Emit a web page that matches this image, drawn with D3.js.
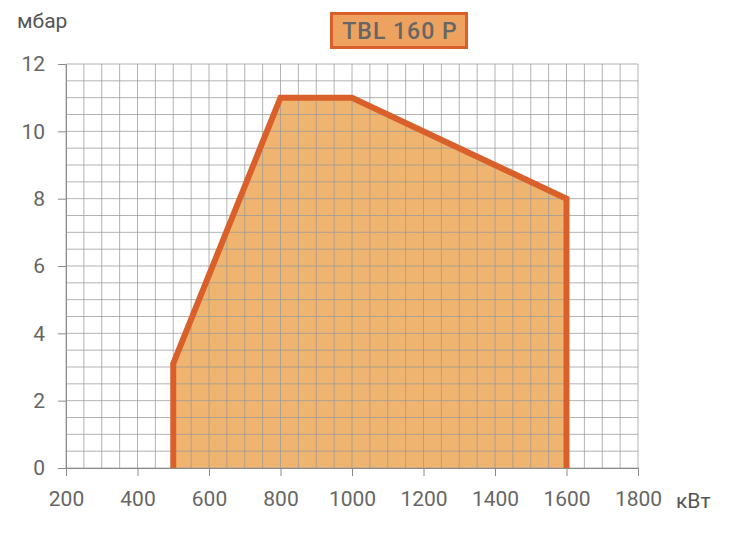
<!DOCTYPE html>
<html><head><meta charset="utf-8">
<script src="https://cdn.jsdelivr.net/npm/d3@7"></script>
<style>body{margin:0;background:#fff}svg{display:block}</style>
</head><body>
<svg id="c" width="730" height="535"></svg>
<script>
const xTicks = [200,400,600,800,1000,1200,1400,1600,1800];
const yTicks = [0,2,4,6,8,10,12];
const curveX = [500,500,800,1000,1600,1600];
const curveY = [0,3.1,11,11,8,0];
const title = "TBL 160 P";
const yUnit = "мбар";
const xUnit = "кВт";

const svg = d3.select("#c");
const x = d3.scaleLinear().domain([200,1800]).range([66,638]);
const y = d3.scaleLinear().domain([0,12]).range([468,64]);
const font = "Roboto, 'DejaVu Sans', sans-serif";
const pts = curveX.map((v,i)=>[v,curveY[i]]);

// fill
svg.append("path")
  .attr("d", d3.line().x(d=>x(d[0])).y(d=>y(d[1]))(pts)+"Z")
  .attr("fill","#efb46f");

// grid
const g = svg.append("g");
const gx = d3.range(200,1800.1,50), gy = d3.range(0,12.01,0.5);
g.selectAll(".vx").data(gx).join("line")
  .attr("x1",d=>x(d)).attr("x2",d=>x(d)).attr("y1",y(0)).attr("y2",y(12))
  .attr("stroke","#9a9a9a").attr("stroke-opacity",0.75).attr("stroke-width",1);
g.selectAll(".hy").data(gy).join("line")
  .attr("y1",d=>y(d)).attr("y2",d=>y(d)).attr("x1",x(200)).attr("x2",x(1800))
  .attr("stroke","#9a9a9a").attr("stroke-opacity",0.75).attr("stroke-width",1);

// axes
const xa = svg.append("g").attr("transform",`translate(0,${y(0)})`)
  .call(d3.axisBottom(x).tickValues(xTicks).tickSize(8).tickPadding(14).tickFormat(d3.format("d")));
const ya = svg.append("g").attr("transform",`translate(${x(200)},0)`)
  .call(d3.axisLeft(y).tickValues(yTicks).tickSize(8).tickPadding(13).tickFormat(d3.format("d")));
[xa,ya].forEach(a=>{
  a.select(".domain").attr("stroke","#8a8a8a");
  a.selectAll(".tick line").attr("stroke","#8a8a8a");
  a.selectAll("text").attr("fill","#666").attr("font-size",21).attr("font-family",font);
});
xa.selectAll("text").attr("dy","0.75em");

// outline
svg.append("path")
  .attr("d", d3.line().x(d=>x(d[0])).y(d=>y(d[1]))(pts))
  .attr("fill","none").attr("stroke","#d9602b").attr("stroke-width",6)
  .attr("stroke-linejoin","miter").attr("stroke-linecap","butt");

// units
svg.append("text").attr("x",17).attr("y",28).text(yUnit)
  .attr("fill","#555").attr("font-size",21).attr("font-family",font);
svg.append("text").attr("x",676).attr("y",508).text(xUnit)
  .attr("fill","#555").attr("font-size",21).attr("font-family",font);

// title
svg.append("rect").attr("x",331.5).attr("y",13.5).attr("width",135).attr("height",34)
  .attr("fill","#eda25f").attr("stroke","#d9602b").attr("stroke-width",3);
svg.append("text").attr("x",400).attr("y",39).attr("text-anchor","middle").text(title)
  .attr("fill","#666").attr("font-size",23).attr("font-weight",500)
  .attr("letter-spacing","1px").attr("font-family",font);
</script>
</body></html>
